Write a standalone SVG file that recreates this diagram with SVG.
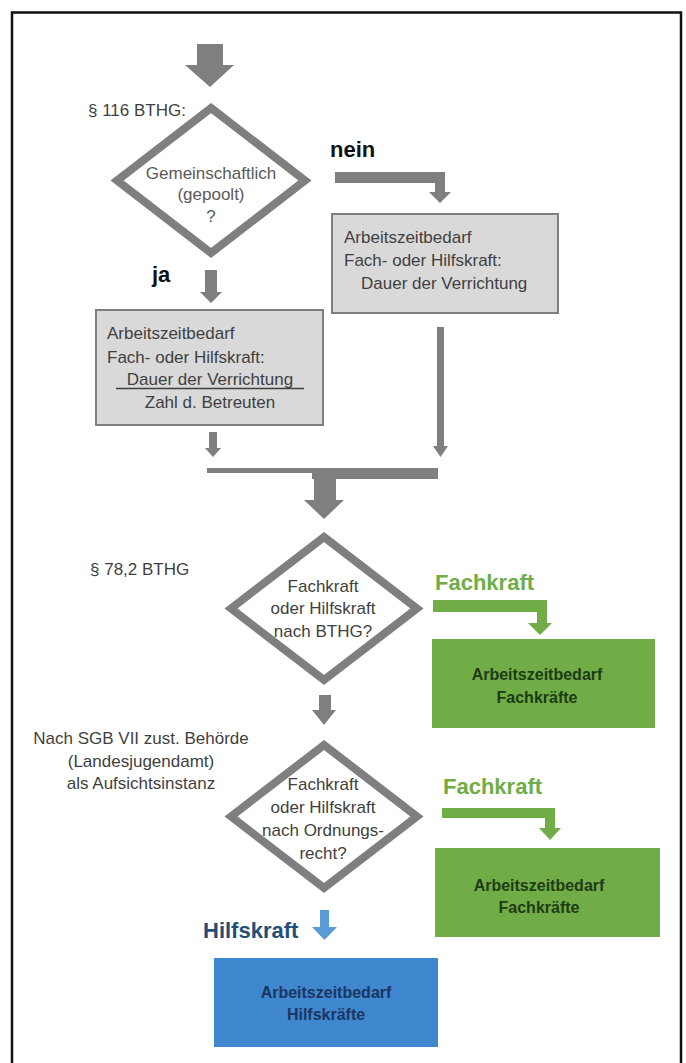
<svg xmlns="http://www.w3.org/2000/svg" width="686" height="1063" viewBox="0 0 686 1063">
<style>
text{font-family:"Liberation Sans",Arial,sans-serif}
.t{font-size:17px;fill:#3f3f3f}
.tg{font-size:17px;fill:#5a5a5a}
.c{text-anchor:middle}
.lab{font-size:22px;font-weight:bold}
.bx{font-size:16px;font-weight:bold;text-anchor:middle}
.dia{fill:#fff;stroke:#7f7f7f;stroke-width:8;stroke-linejoin:miter}
.gbox{fill:#d9d9d9;stroke:#7f7f7f;stroke-width:2}
.ga{fill:#7f7f7f}
.gr{fill:#70ad47}
</style>
<rect x="0" y="0" width="686" height="1063" fill="#fff"/>
<path d="M12,1063 V12.5 H681 V1063" fill="none" stroke="#111" stroke-width="2.5"/>

<g id="connectors">
  <!-- top arrow -->
  <polygon class="ga" points="197,44 223,44 223,65 234,65 210,87 185,65 197,65"/>
  <!-- nein arrow -->
  <polygon class="ga" points="335,172 445,172 445,192 451,192 440,203 429,192 435,192 435,183 335,183"/>
  <!-- ja arrow -->
  <polygon class="ga" points="205,270 217,270 217,292 222,292 211,303 200,292 205,292"/>
  <!-- left small arrow -->
  <polygon class="ga" points="209,432 217,432 217,448 221,448 213,457 205,448 209,448"/>
  <!-- right long arrow -->
  <polygon class="ga" points="437,327 444,327 444,446 448,446 440.5,457 433,446 437,446"/>
  <!-- merge bar -->
  <rect class="ga" x="207" y="468" width="107" height="5"/>
  <polygon class="ga" points="312,468 438,468 438,479 336,479 336,500 344,500 324,519 304,500 314,500 314,479 312,479"/>
  <!-- diamond 2 to 3 -->
  <polygon class="ga" points="319,695 331,695 331,710 336,710 324,725 312,710 319,710"/>
  <!-- green arrows -->
  <polygon class="gr" points="433,600 547,600 547,623 552,623 540,635 528,623 537,623 537,612 433,612"/>
  <polygon class="gr" points="442,808 555,808 555,828 561,828 550,840 539,828 545,828 545,818 442,818"/>
  <!-- blue arrow -->
  <polygon fill="#5b9bd5" points="320,910 329,910 329,927 337,927 324.5,940 312,927 320,927"/>
</g>

<g id="label-116">
  <text class="t" x="88" y="116">§ 116 BTHG:</text>
</g>
<g id="decision1">
  <polygon class="dia" points="211,108 305,180.5 211,253 117,180.5"/>
  <text class="tg c" x="211" y="179">Gemeinschaftlich</text>
  <text class="tg c" x="211" y="200">(gepoolt)</text>
  <text class="tg c" x="211" y="222">?</text>
</g>
<g id="label-nein"><text class="lab" x="330" y="157" fill="#111">nein</text></g>
<g id="label-ja"><text class="lab" x="152" y="282" fill="#111">ja</text></g>

<g id="box-nein">
  <rect class="gbox" x="332" y="214" width="226" height="99"/>
  <text class="t" x="344" y="243">Arbeitszeitbedarf</text>
  <text class="t" x="344" y="266">Fach- oder Hilfskraft:</text>
  <text class="t" x="361" y="289">Dauer der Verrichtung</text>
</g>

<g id="box-ja">
  <rect class="gbox" x="96" y="310" width="227" height="115"/>
  <text class="t" x="107" y="339">Arbeitszeitbedarf</text>
  <text class="t" x="107" y="363">Fach- oder Hilfskraft:</text>
  <text class="t c" x="210" y="385">Dauer der Verrichtung</text>
  <line x1="116" y1="388.5" x2="304" y2="388.5" stroke="#3f3f3f" stroke-width="1.5"/>
  <text class="t c" x="210" y="408">Zahl d. Betreuten</text>
</g>

<g id="label-78">
  <text class="t" x="90" y="575">§ 78,2 BTHG</text>
</g>
<g id="decision2">
  <polygon class="dia" points="324,537 417,608.5 324,680 231,608.5"/>
  <text class="t c" x="323" y="592">Fachkraft</text>
  <text class="t c" x="323" y="614">oder Hilfskraft</text>
  <text class="t c" x="323" y="637">nach BTHG?</text>
</g>
<g id="label-fachkraft1"><text class="lab" x="435" y="590" fill="#70ad47">Fachkraft</text></g>
<g id="box-fach1">
  <rect class="gr" x="432" y="639" width="223" height="89"/>
  <text class="bx" x="537" y="680" fill="#1e3b14">Arbeitszeitbedarf</text>
  <text class="bx" x="537" y="703" fill="#1e3b14">Fachkräfte</text>
</g>

<g id="label-sgb">
  <text class="t c" x="141" y="744">Nach SGB VII zust. Behörde</text>
  <text class="t c" x="141" y="767">(Landesjugendamt)</text>
  <text class="t c" x="141" y="789">als Aufsichtsinstanz</text>
</g>
<g id="decision3">
  <polygon class="dia" points="324,745 417,816.5 324,888 231,816.5"/>
  <text class="t c" x="323" y="790">Fachkraft</text>
  <text class="t c" x="323" y="813">oder Hilfskraft</text>
  <text class="t c" x="323" y="836">nach Ordnungs-</text>
  <text class="t c" x="323" y="859">recht?</text>
</g>
<g id="label-fachkraft2"><text class="lab" x="443" y="794" fill="#70ad47">Fachkraft</text></g>
<g id="box-fach2">
  <rect class="gr" x="435" y="848" width="225" height="89"/>
  <text class="bx" x="539" y="891" fill="#1e3b14">Arbeitszeitbedarf</text>
  <text class="bx" x="539" y="913" fill="#1e3b14">Fachkräfte</text>
</g>

<g id="label-hilfskraft"><text class="lab" x="203" y="938" fill="#1f4e79">Hilfskraft</text></g>
<g id="box-hilf">
  <rect x="214" y="958" width="224" height="89" fill="#3f87cf"/>
  <text class="bx" x="326" y="998" fill="#1c3560">Arbeitszeitbedarf</text>
  <text class="bx" x="326" y="1020" fill="#1c3560">Hilfskräfte</text>
</g>
</svg>
